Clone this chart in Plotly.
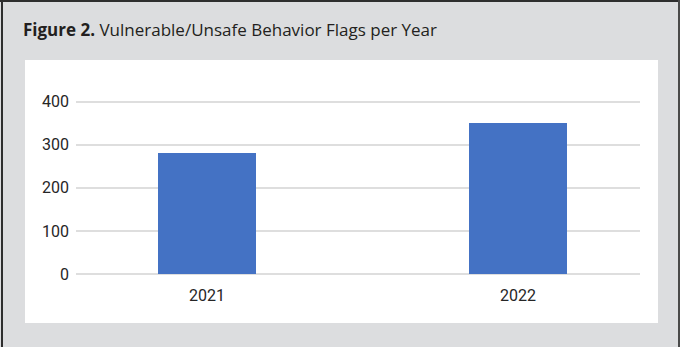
import plotly.graph_objects as go

# Flag counts by year
years = ["2021", "2022"]
flags = [281, 350]
y_ticks = [0, 100, 200, 300, 400]

W, H = 680, 347


def px_x(p):
    return p / W


def px_y(p):
    return 1 - p / H


# value axis: 0 sits at y=274px, 400 at y=101.7px; pad the range a little so
# the end gridlines are still drawn
unit = (274 - 101.7) / 400
pad = 4
y_lo, y_hi = -pad, 400 + pad
dom_bottom = 274 + pad * unit
dom_top = 101.7 - pad * unit

fig = go.Figure(
    go.Bar(
        x=years,
        y=flags,
        width=0.315,
        marker=dict(color="#4472c4", line=dict(width=0)),
        hoverinfo="x+y",
    )
)

shapes = [
    # white chart panel
    dict(type="rect", xref="paper", yref="paper", layer="below",
         x0=px_x(25), x1=px_x(658), y0=px_y(323), y1=px_y(60),
         fillcolor="white", line=dict(width=0)),
    # dark frame: top, left, right
    dict(type="rect", xref="paper", yref="paper", layer="above",
         x0=0, x1=1, y0=px_y(2), y1=1,
         fillcolor="#2e2e2e", line=dict(width=0)),
    dict(type="rect", xref="paper", yref="paper", layer="above",
         x0=px_x(1), x1=px_x(3), y0=0, y1=1,
         fillcolor="#2e2e2e", line=dict(width=0)),
    dict(type="rect", xref="paper", yref="paper", layer="above",
         x0=px_x(678), x1=1, y0=0, y1=1,
         fillcolor="#4a4a4a", line=dict(width=0)),
]

fig.update_layout(
    width=W,
    height=H,
    margin=dict(l=0, r=0, t=0, b=0, pad=0, autoexpand=False),
    paper_bgcolor="#dcdddf",
    plot_bgcolor="rgba(0,0,0,0)",
    showlegend=False,
    bargap=0,
    shapes=shapes,
    font=dict(family="Roboto", color="#262626"),
    annotations=[
        dict(
            text="<b>Figure 2.</b> Vulnerable/Unsafe Behavior Flags per Year",
            xref="paper", yref="paper",
            x=px_x(21), y=px_y(30),
            xanchor="left", yanchor="middle",
            showarrow=False,
            font=dict(family="Open Sans", size=17, color="#231f20"),
        )
    ],
    xaxis=dict(
        domain=[px_x(76), px_x(640)],
        range=[-0.421, 1.392],
        showgrid=False,
        zeroline=False,
        showline=False,
        ticks="",
        tickfont=dict(size=16, color="#262626"),
        ticklabelstandoff=8,
        fixedrange=True,
    ),
    yaxis=dict(
        domain=[px_y(dom_bottom), px_y(dom_top)],
        range=[y_lo, y_hi],
        tickvals=y_ticks,
        showgrid=True,
        gridcolor="#dedede",
        gridwidth=2,
        zeroline=False,
        showline=False,
        ticks="",
        tickfont=dict(size=16, color="#262626"),
        ticklabelstandoff=6,
        fixedrange=True,
    ),
)

fig.write_html("out.html")
